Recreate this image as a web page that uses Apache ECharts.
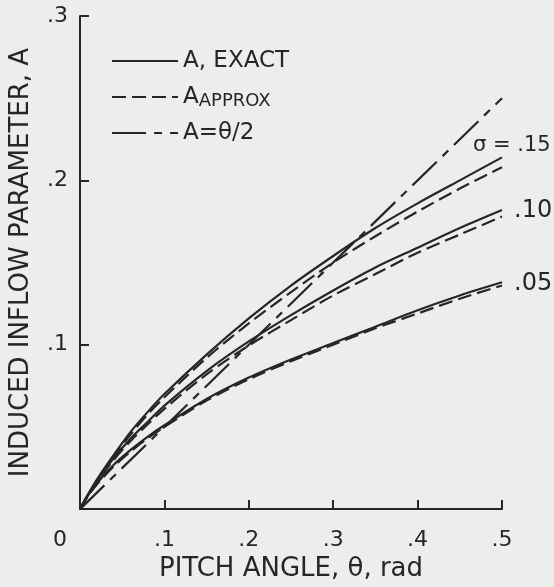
<!DOCTYPE html>
<html>
<head>
<meta charset="utf-8">
<script src="https://cdn.jsdelivr.net/npm/echarts@6/dist/echarts.min.js"></script>
<style>
html,body{margin:0;padding:0;background:#ededeb;}
#c{width:554px;height:587px;}
</style>
</head>
<body>
<div id="c"></div>
<script>
// Pitch angle theta (rad)
const theta = [0, 0.01, 0.02, 0.04, 0.06, 0.08, 0.1, 0.15, 0.2, 0.25, 0.3, 0.35, 0.4, 0.45, 0.5];
// sigma = .15
const exact15  = [0, 0.0094, 0.018, 0.033, 0.047, 0.059, 0.070, 0.094, 0.116, 0.136, 0.154, 0.171, 0.186, 0.200, 0.214];
const approx15 = [0, 0.0090, 0.0175, 0.032, 0.0455, 0.0575, 0.068, 0.092, 0.113, 0.132, 0.150, 0.166, 0.181, 0.195, 0.208];
// sigma = .10
const exact10  = [0, 0.0092, 0.017, 0.031, 0.043, 0.053, 0.063, 0.084, 0.102, 0.118, 0.133, 0.147, 0.159, 0.171, 0.182];
const approx10 = [0, 0.0088, 0.0165, 0.030, 0.0415, 0.0515, 0.061, 0.082, 0.0995, 0.115, 0.130, 0.143, 0.156, 0.167, 0.178];
// sigma = .05
const exact05  = [0, 0.0086, 0.0156, 0.027, 0.036, 0.044, 0.051, 0.067, 0.080, 0.091, 0.101, 0.111, 0.121, 0.130, 0.138];
const approx05 = [0, 0.0083, 0.0150, 0.026, 0.035, 0.043, 0.050, 0.066, 0.079, 0.090, 0.100, 0.110, 0.119, 0.128, 0.136];
// A = theta/2 line
const halfTheta = [0, 0.5];
const halfA = [0, 0.25];

const sigmaLabels = ['σ = .15', '.10', '.05'];
const legendNames = ['A, EXACT', 'AAPPROX', 'A=θ/2'];
const xTicks = [0, 0.1, 0.2, 0.3, 0.4, 0.5];
const yTicks = [0, 0.1, 0.2, 0.3];

const INK = '#262626';
const FONT = 'DejaVu Sans';
const pairs = (xs, ys) => xs.map((x, i) => [x, ys[i]]);
const fmt = v => (Math.abs(v) < 1e-9 ? '0' : '.' + Math.round(v * 10));

function exactSeries(name, data, label, offset, size) {
  return {
    name: name, type: 'line', data: pairs(theta, data), smooth: 0.3,
    showSymbol: false, symbol: 'none',
    itemStyle: { color: INK },
    lineStyle: { color: INK, width: 2.2, type: 'solid' },
    endLabel: { show: true, formatter: label, color: INK, fontFamily: FONT, fontSize: size, offset: offset },
    silent: true, animation: false
  };
}
function approxSeries(name, data) {
  return {
    name: name, type: 'line', data: pairs(theta, data), smooth: 0.3,
    showSymbol: false, symbol: 'none',
    itemStyle: { color: INK },
    lineStyle: { color: INK, width: 2.2, type: [14, 6] },
    silent: true, animation: false
  };
}

const chart = echarts.init(document.getElementById('c'), null, { renderer: 'canvas' });
chart.setOption({
  backgroundColor: '#ededeb',
  animation: false,
  grid: { left: 80, right: 52, top: 16, bottom: 71, containLabel: false },
  legend: {
    data: legendNames, orient: 'vertical', left: 106, top: 43,
    itemWidth: 66, itemHeight: 14, itemGap: 10, selectedMode: false,
    itemStyle: { opacity: 0 },
    textStyle: {
      color: INK, fontFamily: FONT, fontSize: 23, lineHeight: 26,
      rich: {
        a: { fontFamily: FONT, fontSize: 23, color: INK, lineHeight: 26 },
        s: { fontFamily: FONT, fontSize: 18, color: INK, lineHeight: 26, verticalAlign: 'bottom' }
      }
    },
    formatter: n => n === 'AAPPROX' ? '{a|A}{s|APPROX}' : n
  },
  xAxis: {
    type: 'value', min: 0, max: 0.5, interval: 0.1,
    name: 'PITCH ANGLE, θ, rad', nameLocation: 'middle', nameGap: 42,
    nameTextStyle: { color: INK, fontFamily: FONT, fontSize: 26 },
    axisLine: { show: true, lineStyle: { color: INK, width: 2 } },
    axisTick: { show: true, inside: true, length: 9, lineStyle: { color: INK, width: 2 },
      customValues: xTicks.filter(v => v > 0) },
    axisLabel: { color: INK, fontFamily: FONT, fontSize: 22, margin: 20,
      customValues: xTicks,
      formatter: v => Math.abs(v) < 1e-9 ? '{z|0}' : fmt(v),
      rich: { z: { fontFamily: FONT, fontSize: 22, color: INK, padding: [0, 40, 0, 0] } } },
    splitLine: { show: false }
  },
  yAxis: {
    type: 'value', min: 0, max: 0.3, interval: 0.1,
    name: 'INDUCED INFLOW PARAMETER, A', nameLocation: 'middle', nameGap: 46,
    nameTextStyle: { color: INK, fontFamily: FONT, fontSize: 26 },
    axisLine: { show: true, lineStyle: { color: INK, width: 2 } },
    axisTick: { show: true, inside: true, length: 9, lineStyle: { color: INK, width: 2 },
      customValues: yTicks.filter(v => v > 0) },
    axisLabel: { color: INK, fontFamily: FONT, fontSize: 22, margin: 12,
      customValues: yTicks.filter(v => v > 0), formatter: fmt },
    splitLine: { show: false }
  },
  series: [
    exactSeries('A, EXACT', exact15, sigmaLabels[0], [-37, -12], 21),
    approxSeries('AAPPROX', approx15),
    {
      name: 'A=θ/2', type: 'line', data: pairs(halfTheta, halfA),
      showSymbol: false, symbol: 'none',
      itemStyle: { color: INK },
      lineStyle: { color: INK, width: 2.2, type: [34, 8, 8, 8] },
      silent: true, animation: false
    },
    exactSeries('A, EXACT', exact10, sigmaLabels[1], [4, 1], 24),
    approxSeries('AAPPROX', approx10),
    exactSeries('A, EXACT', exact05, sigmaLabels[2], [4, 1], 24),
    approxSeries('AAPPROX', approx05)
  ]
});
</script>
</body>
</html>
